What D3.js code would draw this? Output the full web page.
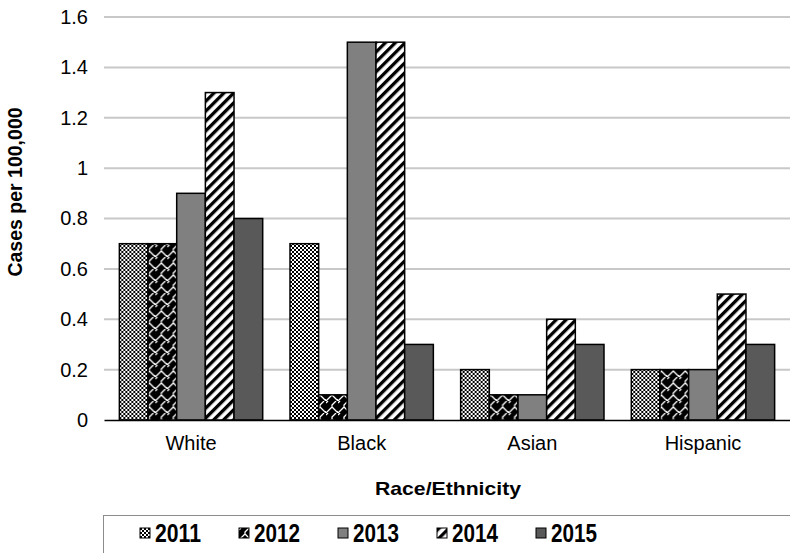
<!DOCTYPE html>
<html>
<head>
<meta charset="utf-8">
<script src="https://cdn.jsdelivr.net/npm/d3@7"></script>
<style>
  body { margin: 0; background: #fff; }
  svg { display: block; font-family: "Liberation Sans", Arial, sans-serif; }
</style>
</head>
<body>
<div id="chart"></div>
<script>

var categories = ["White", "Black", "Asian", "Hispanic"];
var years = ["2011", "2012", "2013", "2014", "2015"];

// one array per year, in category order
var v2011 = [0.7, 0.7, 0.2, 0.2];
var v2012 = [0.7, 0.1, 0.1, 0.2];
var v2013 = [0.9, 1.5, 0.1, 0.2];
var v2014 = [1.3, 1.5, 0.4, 0.5];
var v2015 = [0.8, 0.3, 0.3, 0.3];

var yTicks = [0, 0.2, 0.4, 0.6, 0.8, 1, 1.2, 1.4, 1.6];

var seriesValues = [v2011, v2012, v2013, v2014, v2015];

var width = 790, height = 553;

var margin = {top: 17, right: 0, bottom: 133, left: 104};

var svg = d3.select("#chart").append("svg")
    .attr("width", width)
    .attr("height", height);

// fill patterns
var defs = svg.append("defs");

var p1 = defs.append("pattern").attr("id", "pat2011")
    .attr("patternUnits", "userSpaceOnUse").attr("width", 4).attr("height", 4);
p1.append("rect").attr("width", 4).attr("height", 4).attr("fill", "#fff");
p1.append("rect").attr("width", 2).attr("height", 2).attr("fill", "#000");
p1.append("rect").attr("x", 2).attr("y", 2).attr("width", 2).attr("height", 2).attr("fill", "#000");

var p2 = defs.append("pattern").attr("id", "pat2012")
    .attr("patternUnits", "userSpaceOnUse").attr("width", 12).attr("height", 12);
p2.append("rect").attr("width", 12).attr("height", 12).attr("fill", "#000");
p2.append("path")
    .attr("d", "M0,12 L6,6 L12,12 M6,6 L6,4 L10,0 M12,12 L12,10 M0,2 L2,0")
    .attr("stroke", "#fff").attr("stroke-width", 1.3).attr("fill", "none");

var p4 = defs.append("pattern").attr("id", "pat2014")
    .attr("patternUnits", "userSpaceOnUse").attr("width", 7).attr("height", 7)
    .attr("patternTransform", "rotate(45)");
p4.append("rect").attr("width", 7).attr("height", 7).attr("fill", "#fff");
p4.append("rect").attr("width", 3.3).attr("height", 7).attr("fill", "#000");

var fills = ["url(#pat2011)", "url(#pat2012)", "#808080", "url(#pat2014)", "#595959"];

var plotW = width - margin.left - margin.right,
    plotH = height - margin.top - margin.bottom;

var g = svg.append("g")
    .attr("transform", "translate(" + margin.left + "," + margin.top + ")");

var x0 = d3.scaleBand()
    .domain(categories)
    .range([0, plotW])
    .paddingInner(0.16)
    .paddingOuter(0.09);

var x1 = d3.scaleBand()
    .domain(years)
    .range([0, x0.bandwidth()]);

var y = d3.scaleLinear()
    .domain([0, 1.6])
    .range([403, 0]);

// gridlines
g.selectAll(".grid")
    .data(yTicks.slice(1))
    .enter()
    .append("line")
    .attr("class", "grid")
    .attr("x1", 0)
    .attr("x2", plotW)
    .attr("y1", function (d) { return y(d); })
    .attr("y2", function (d) { return y(d); })
    .style("stroke", "#c8c8c8")
    .style("stroke-width", 2);

var yAxis = d3.axisLeft(y)
    .tickValues(yTicks)
    .tickFormat(function (d) { return d3.format("")(d); })
    .tickSize(0)
    .tickPadding(16);

g.append("g")
    .attr("class", "y axis")
    .call(yAxis)
    .call(function (a) { a.select(".domain").remove(); })
    .selectAll("text")
    .style("font-size", "20px")
    .style("fill", "#000");

// bars
var groups = g.selectAll(".cat")
    .data(categories)
    .enter()
    .append("g")
    .attr("class", "cat")
    .attr("transform", function (d) { return "translate(" + x0(d) + ",0)"; });

groups.selectAll("rect")
    .data(function (c, ci) {
        return years.map(function (yr, si) {
            return {year: yr, idx: si, value: seriesValues[si][ci]};
        });
    })
    .enter()
    .append("rect")
    .attr("x", function (d) { return x1(d.year); })
    .attr("width", x1.bandwidth())
    .attr("y", function (d) { return y(d.value); })
    .attr("height", function (d) { return y(0) - y(d.value); })
    .style("fill", function (d) { return fills[d.idx]; })
    .style("stroke", "#000")
    .style("stroke-width", 1.5);

var xAxis = d3.axisBottom(x0).tickSize(0).tickPadding(16);

g.append("g")
    .attr("class", "x axis")
    .attr("transform", "translate(0," + y(0) + ")")
    .call(xAxis)
    .call(function (a) { a.select(".domain").style("stroke", "#000").style("stroke-width", 1.5); })
    .selectAll("text")
    .style("font-size", "20px")
    .style("fill", "#000");

// axis titles
svg.append("text")
    .attr("x", 448)
    .attr("y", 495)
    .attr("text-anchor", "middle")
    .attr("textLength", 146)
    .attr("lengthAdjust", "spacingAndGlyphs")
    .style("font-size", "19px")
    .style("font-weight", "bold")
    .text("Race/Ethnicity");

svg.append("text")
    .attr("transform", "translate(22,192) rotate(-90)")
    .attr("text-anchor", "middle")
    .style("font-size", "19.5px")
    .style("font-weight", "bold")
    .text("Cases per 100,000");

// legend
svg.append("rect")
    .attr("x", 103.5)
    .attr("y", 515.5)
    .attr("width", 700)
    .attr("height", 60)
    .style("fill", "none")
    .style("stroke", "#8c8c8c");

var legend = svg.selectAll(".legend")
    .data(years)
    .enter()
    .append("g")
    .attr("class", "legend")
    .attr("transform", function (d, i) { return "translate(" + (140 + i * 99) + ",528)"; });

legend.append("rect")
    .attr("width", 10)
    .attr("height", 10)
    .style("fill", function (d, i) { return fills[i]; })
    .style("stroke", "#000")
    .style("stroke-width", 1);

legend.append("text")
    .attr("x", 15)
    .attr("y", 14)
    .attr("textLength", 46)
    .attr("lengthAdjust", "spacingAndGlyphs")
    .style("font-size", "26px")
    .style("font-weight", "bold")
    .text(function (d) { return d; });

</script>
</body>
</html>
